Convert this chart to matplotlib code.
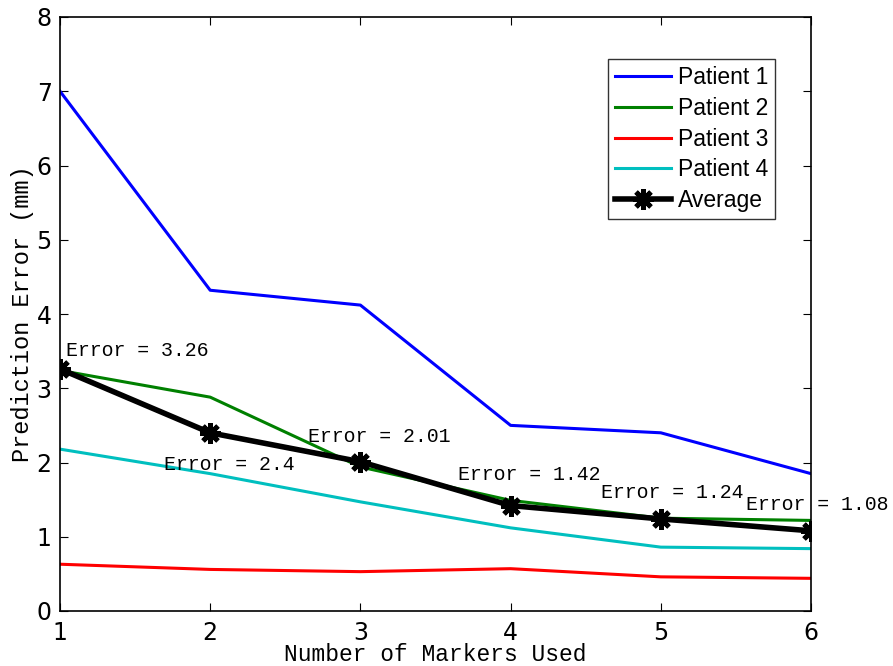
import matplotlib
matplotlib.use("Agg")
import matplotlib.pyplot as plt

markers_used = [1, 2, 3, 4, 5, 6]
patient1 = [7.00, 4.32, 4.12, 2.50, 2.40, 1.85]
patient2 = [3.24, 2.88, 1.94, 1.49, 1.25, 1.22]
patient3 = [0.63, 0.56, 0.53, 0.57, 0.46, 0.44]
patient4 = [2.18, 1.85, 1.47, 1.12, 0.86, 0.84]
average = [3.26, 2.40, 2.01, 1.42, 1.24, 1.08]
labels = ["Patient 1", "Patient 2", "Patient 3", "Patient 4", "Average"]
annot_text = ["Error = 3.26", "Error = 2.4", "Error = 2.01", "Error = 1.42", "Error = 1.24", "Error = 1.08"]
annot_x = [1.04, 1.69, 2.65, 3.65, 4.60, 5.57]
annot_y = [3.51, 1.97, 2.35, 1.84, 1.59, 1.43]

fig = plt.figure(figsize=(8.93, 6.66), dpi=100)
ax = fig.add_axes([60/893, 55/666, 751/893, 594/666])

ax.plot(markers_used, patient1, color=(0, 0, 1), lw=2.2, label=labels[0])
ax.plot(markers_used, patient2, color=(0, 0.5, 0), lw=2.2, label=labels[1])
ax.plot(markers_used, patient3, color=(1, 0, 0), lw=2.2, label=labels[2])
ax.plot(markers_used, patient4, color=(0, 0.75, 0.75), lw=2.2, label=labels[3])
ax.plot(markers_used, average, color="black", lw=4, marker=(8, 2, 0), ms=15,
        mew=3.5, label=labels[4], zorder=5)

for t, x, y in zip(annot_text, annot_x, annot_y):
    ax.text(x, y, t, ha="left", va="center", fontsize=14.3,
            family="Liberation Mono", clip_on=False)

ax.set_xlim(1, 6)
ax.set_ylim(0, 8)
ax.set_xticks(markers_used)
ax.set_yticks(range(0, 9))
ax.tick_params(direction="in", labelsize=17, top=True, right=True, length=6)
ax.tick_params(axis="y", pad=6)
ax.tick_params(axis="x", pad=7)
for s in ax.spines.values():
    s.set_linewidth(1.2)
ax.set_xlabel("Number of Markers Used", family="Liberation Mono", fontsize=16.5)
ax.xaxis.set_label_coords(0.5, -0.074)
ax.xaxis.label.set_va("center")
ax.set_ylabel("Prediction Error (mm)", family="Liberation Mono", fontsize=17, labelpad=2)

leg = ax.legend(loc="upper right", bbox_to_anchor=(0.952, 0.929),
                prop={"family": "Liberation Sans", "size": 16.5},
                frameon=True, fancybox=False, edgecolor="black", handlelength=2.45,
                borderpad=0.3, labelspacing=0.34, handletextpad=0.3, borderaxespad=0)
leg.get_frame().set_linewidth(1.0)

fig.savefig("out.png", dpi=100)
